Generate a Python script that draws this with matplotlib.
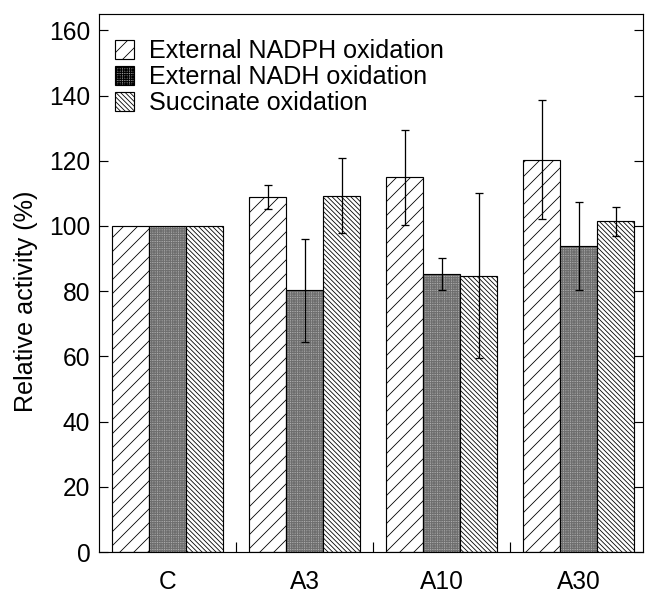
import matplotlib
matplotlib.use("Agg")
import matplotlib.pyplot as plt
import numpy as np

# ── data ───────────────────────────────────────────────────────────────
groups = ["C", "A3", "A10", "A30"]
labels = ["External NADPH oxidation", "External NADH oxidation",
          "Succinate oxidation"]
nadph = [100, 108.8, 114.9, 120.3]
nadph_err = [0, 3.7, 14.6, 18.2]
nadh = [100, 80.2, 85.2, 93.9]
nadh_err = [0, 15.7, 4.9, 13.5]
succ = [100, 109.3, 84.8, 101.4]
succ_err = [0, 11.5, 25.3, 4.5]

DPI = 84
plt.rcParams.update({
    "font.family": ["Liberation Sans", "DejaVu Sans"],
    "font.size": 21,
    "hatch.linewidth": 0.7,
    "axes.linewidth": 1.0,
})

fig = plt.figure(figsize=(645 / DPI, 594 / DPI), dpi=DPI)
ax = fig.add_axes([99 / 645, 42 / 594, 544 / 645, 538 / 594])

x = np.arange(len(groups))
w = 0.27
# (facecolor, hatch, hatch colour)
styles = [
    ("white", "//", "black"),
    ("#b8b8b8", "++++++++", "#6e6e6e"),
    ("white", "\\\\\\\\\\\\", "black"),
]
handles = []
for i, (vals, errs) in enumerate([(nadph, nadph_err), (nadh, nadh_err),
                                  (succ, succ_err)]):
    fc, hatch, hc = styles[i]
    xs = x + (i - 1) * w
    # fill + hatch first, then a plain black outline on top
    ax.bar(xs, vals, width=w, facecolor=fc, hatch=hatch, edgecolor=hc,
           linewidth=0)
    ax.bar(xs, vals, width=w, facecolor="none", edgecolor="black",
           linewidth=1.0)
    # the control has no error bar
    ax.errorbar(xs[1:], vals[1:], yerr=errs[1:], fmt="none", ecolor="black",
                elinewidth=1.1, capsize=3.5, capthick=1.1)
    handles.append(plt.Rectangle((0, 0), 1, 1, facecolor=fc, hatch=hatch,
                                 edgecolor=hc, linewidth=0))

ax.set_xlim(-0.5, 3.47)
ax.set_ylim(0, 165)
ax.set_yticks(np.arange(0, 161, 20))
ax.set_xticks(x)
ax.set_xticklabels(groups)
ax.set_xticks(x[:-1] + 0.5, minor=True)
ax.tick_params(axis="x", which="major", length=0, pad=15.5)
ax.tick_params(axis="x", which="minor", direction="in", length=8.5, width=1.0)
ax.tick_params(axis="y", direction="in", length=7.5, width=1.0, pad=7.5,
               right=True)
ax.set_ylabel("Relative activity (%)", fontsize=21.5)
ax.yaxis.set_label_coords(-0.112, 0.4665)

leg = ax.legend(handles, labels, loc="upper left",
                bbox_to_anchor=(0.029, 0.953), frameon=False, fontsize=21.5,
                handlelength=0.75, handleheight=0.75, handletextpad=0.6,
                labelspacing=0.08, borderpad=0, borderaxespad=0)
for h in leg.legend_handles:
    h.set_linewidth(1.0)
    h.set_edgecolor("black")

fig.savefig("out.png", dpi=DPI)
